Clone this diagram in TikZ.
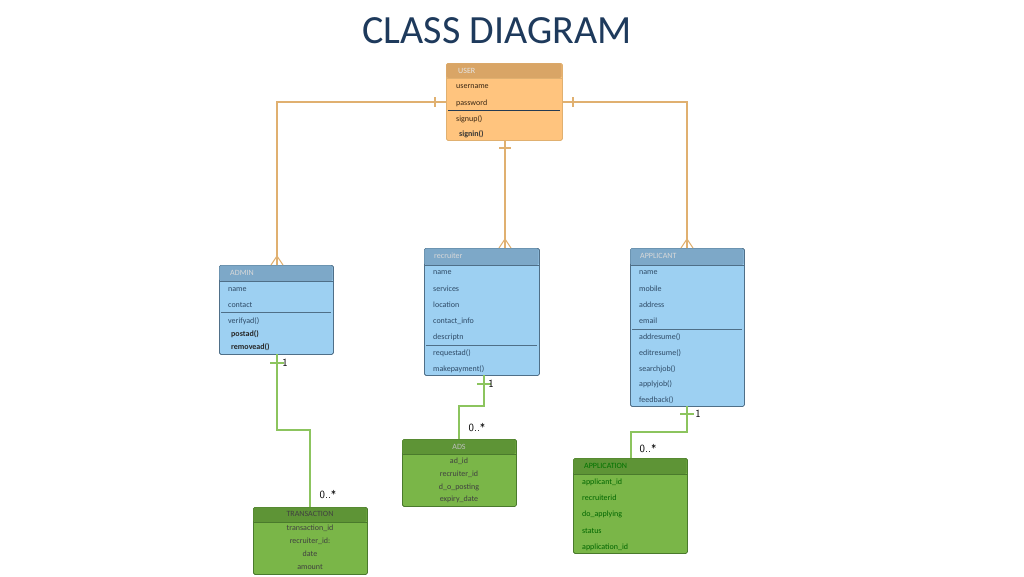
\documentclass[tikz,border=0pt]{standalone}
\usepackage{fontspec}
\setmainfont{Carlito}
\begin{document}
\definecolor{obox}{HTML}{FFC47E}\definecolor{ohead}{HTML}{D9A566}\definecolor{oline}{HTML}{E0B070}
\definecolor{bbox}{HTML}{9DD0F2}\definecolor{bhead}{HTML}{7DA8C8}\definecolor{bline}{HTML}{4F6F88}
\definecolor{gbox}{HTML}{7AB648}\definecolor{ghead}{HTML}{5E9436}\definecolor{gline}{HTML}{4A7A2C}
\definecolor{glink}{HTML}{8CC45E}\definecolor{navy}{HTML}{1E3A5C}\definecolor{txt}{HTML}{2E4A66}
\begin{tikzpicture}[x=1pt,y=-1pt,
  t/.style={font=\fontsize{8}{9}\selectfont,text=txt,anchor=west,inner sep=0},
  tc/.style={font=\fontsize{8}{9}\selectfont,text=black!75,inner sep=0},
  olink/.style={draw=oline,line width=1.2pt},
  glk/.style={draw=glink,line width=2.2pt},
  mult/.style={font=\sffamily\fontsize{11}{12}\selectfont,inner sep=0}]
\useasboundingbox (0,0) rectangle (1024,576);
\fill[white] (0,0) rectangle (1024,576);
\newcommand\umlbox[9]{%
  \node[draw=#9,line width=0.8pt,fill=#7,rounded corners=1.5pt,minimum width=#4pt-#2pt,minimum height=#5pt-#3pt,inner sep=0,anchor=north west] (#1) at (#2,#3) {};
  \fill[#8,rounded corners=1.5pt] (#2+0.4,#3+0.4) rectangle (#4-0.4,#6);
  \draw[#9,line width=0.8pt] (#2,#6) -- (#4,#6);}
\newcommand\crow[3]{% x, ytop of box, colour
  \draw[#3,line width=1pt] (#1-6,#2) -- (#1,#2-9) -- (#1+6,#2) (#1,#2-9) -- (#1,#2);}
% title
\node[font=\fontsize{40}{44}\selectfont,text=navy] (title) at (497,31) {CLASS DIAGRAM};
% boxes
\umlbox{user}{446}{63}{562}{140}{78}{obox}{ohead}{oline}
\umlbox{admin}{219}{265}{333}{354}{281}{bbox}{bhead}{bline}
\umlbox{rec}{424}{248}{539}{375}{265}{bbox}{bhead}{bline}
\umlbox{app}{630}{248}{744}{406}{265}{bbox}{bhead}{bline}
\umlbox{ads}{402}{439}{516}{506}{454}{gbox}{ghead}{gline}
\umlbox{trans}{253}{507}{367}{574}{522}{gbox}{ghead}{gline}
\umlbox{appl}{573}{458}{687}{553}{474}{gbox}{ghead}{gline}
% separators
\draw[txt!80!black,line width=1pt] (448,110)--(560,110);
\draw[bline,line width=0.8pt] (221,312)--(331,312) (426,345)--(537,345) (632,329)--(742,329);
% USER text
\node[t,text=white!90!black] (u0) at (458,71) {USER};
\node[t,text=black!70!brown] (u1) at (456,87) {username};
\node[t,text=black!70!brown] (u2) at (456,103) {password};
\node[t,text=black!70!brown] (u3) at (456,119) {signup()};
\node[t,text=black!80] (u4) at (459,134) {\bfseries signin()};
% ADMIN
\node[t,text=white!85!black] (a0) at (230,273) {ADMIN};
\node[t] (a1) at (228,290) {name};
\node[t] (a2) at (228,305) {contact};
\node[t] (a3) at (228,321) {verifyad()};
\node[t,text=black!85] (a4) at (231,334) {\bfseries postad()};
\node[t,text=black!85] (a5) at (231,347) {\bfseries removead()};
% recruiter
\node[t,text=white!85!black] (r0) at (434,256) {recruiter};
\node[t] (r1) at (433,273) {name};
\node[t] (r2) at (433,289) {services};
\node[t] (r3) at (433,305) {location};
\node[t] (r4) at (433,321) {contact\_info};
\node[t] (r5) at (433,337) {descriptn};
\node[t] (r6) at (433,353) {requestad()};
\node[t] (r7) at (433,369) {makepayment()};
% applicant
\node[t,text=white!85!black] (p0) at (640,256) {APPLICANT};
\foreach \s/\y [count=\i] in {name/273,mobile/289,address/305,email/321,addresume()/337,editresume()/353,searchjob()/369,applyjob()/384,feedback()/400}
  \node[t] (p\i) at (639,\y) {\s};
% ADS
\node[tc,text=white!75!black] (d0) at (459,447) {ADS};
\foreach \s/\y [count=\i] in {ad\_id/461,recruiter\_id/474,d\_o\_posting/487,expiry\_date/499}
  \node[tc] (d\i) at (459,\y) {\s};
% TRANSACTION
\node[tc] (x0) at (310,514) {TRANSACTION};
\foreach \s/\y [count=\i] in {transaction\_id/528,recruiter\_id:/541,date/554,amount/567}
  \node[tc] (x\i) at (310,\y) {\s};
% APPLICATION
\node[t,text=black!55!green] (l0) at (584,466) {APPLICATION};
\foreach \s/\y [count=\i] in {applicant\_id/482,recruiterid/498,do\_applying/514,status/531,application\_id/547}
  \node[t,text=black!60!green] (l\i) at (582,\y) {\s};
% orange links
\coordinate (c1) at (277,102); \coordinate (c2) at (687,102);
\draw[olink] (user.west |- c1) -- (c1) -- (admin.north -| c1);
\draw[olink] (user.east |- c2) -- (c2) -- (app.north -| c2);
\draw[olink] (505,140) -- (505,248);
\draw[olink] (435,97)--(435,107) (573,97)--(573,107) (499,148)--(511,148);
\crow{277}{265}{oline}\crow{687}{248}{oline}\crow{505}{248}{oline}
% green links
\coordinate (g1) at (277,430); \coordinate (g2) at (310,430);
\draw[glk] (277,354) -- (g1) -- (g2) -- (trans.north -| g2);
\coordinate (g3) at (484,406); \coordinate (g4) at (459,406);
\draw[glk] (484,375) -- (g3) -- (g4) -- (ads.north -| g4);
\coordinate (g5) at (687,432); \coordinate (g6) at (631,432);
\draw[glk] (687,406) -- (g5) -- (g6) -- (appl.north -| g6);
\draw[glink,line width=1.5pt] (270,363)--(284,363) (477,384)--(491,384) (680,414)--(694,414);
\node[mult] (m1) at (285,363) {1};
\node[mult] (m2) at (491,384) {1};
\node[mult] (m3) at (698,414) {1};
\node[mult] (m4) at (328,494) {0..*};
\node[mult] (m5) at (477,427) {0..*};
\node[mult] (m6) at (648,448) {0..*};
\end{tikzpicture}
\end{document}
